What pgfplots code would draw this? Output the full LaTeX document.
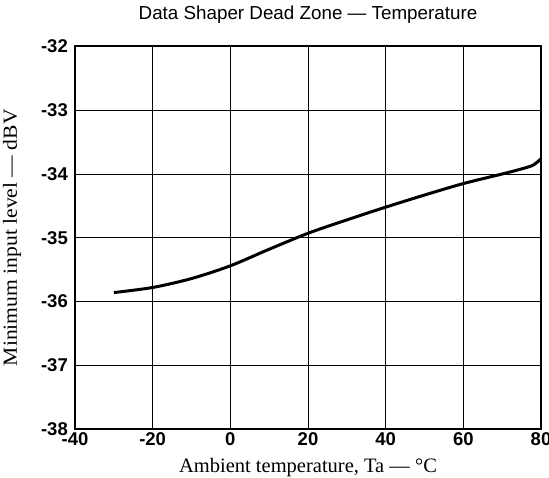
\documentclass[border=0pt]{standalone}
\usepackage{fontspec}
\usepackage{pgfplots}
\pgfplotsset{compat=1.18}
\setmainfont{Liberation Serif}
\newfontfamily\sansf{Liberation Sans}
\newfontfamily\seriff{Liberation Serif}
\begin{document}
\begin{tikzpicture}
\useasboundingbox (-75pt,-48pt) rectangle (474pt,429pt);
\begin{axis}[
  scale only axis,
  width=466pt, height=382.5pt,
  xmin=-40, xmax=80, ymin=-38, ymax=-32,
  xtick={-40,-20,0,20,40,60,80},
  ytick={-38,-37,-36,-35,-34,-33,-32},
  xticklabels={-40,-20,0,20,40,60,80},
  yticklabels={-38,-37,-36,-35,-34,-33,-32},
  major tick length=0pt,
  grid=major,
  grid style={black, line width=0.9pt},
  axis line style={black, line width=2pt},
  /pgf/number format/assume math mode=true,
  ticklabel style={font=\sansf\bfseries\fontsize{18.5}{20}\selectfont},
  xticklabel style={inner sep=0pt, anchor=north, yshift=-3pt},
  yticklabel style={inner sep=0pt, anchor=east, xshift=-7pt},
  title={Data Shaper Dead Zone \textemdash{} Temperature},
  title style={font=\sansf\fontsize{18.8}{22}\selectfont, at={(axis description cs:0.5,1.0562)}, anchor=base, inner sep=0pt},
  xlabel={Ambient temperature, Ta \textemdash{} \textdegree C},
  xlabel style={font=\seriff\fontsize{20.5}{24}\selectfont, at={(axis description cs:0.5,-0.115)}, anchor=base, inner sep=0pt},
  ylabel={\scalebox{1.08}[1]{Minimum input level \textemdash{} dBV}},
  ylabel style={font=\seriff\fontsize{20}{24}\selectfont, at={(axis description cs:-0.135,0.5)}, anchor=center, inner sep=0pt},
]
\addplot[black, line width=3pt, smooth] coordinates {
(-30,-35.86) (-20,-35.78) (-10,-35.64) (0,-35.44) (10,-35.18) (20,-34.93)
(30,-34.72) (40,-34.52) (50,-34.33) (60,-34.15) (70,-34.00) (75,-33.92)
(78,-33.86) (80,-33.76)
};
\end{axis}
\end{tikzpicture}
\end{document}
